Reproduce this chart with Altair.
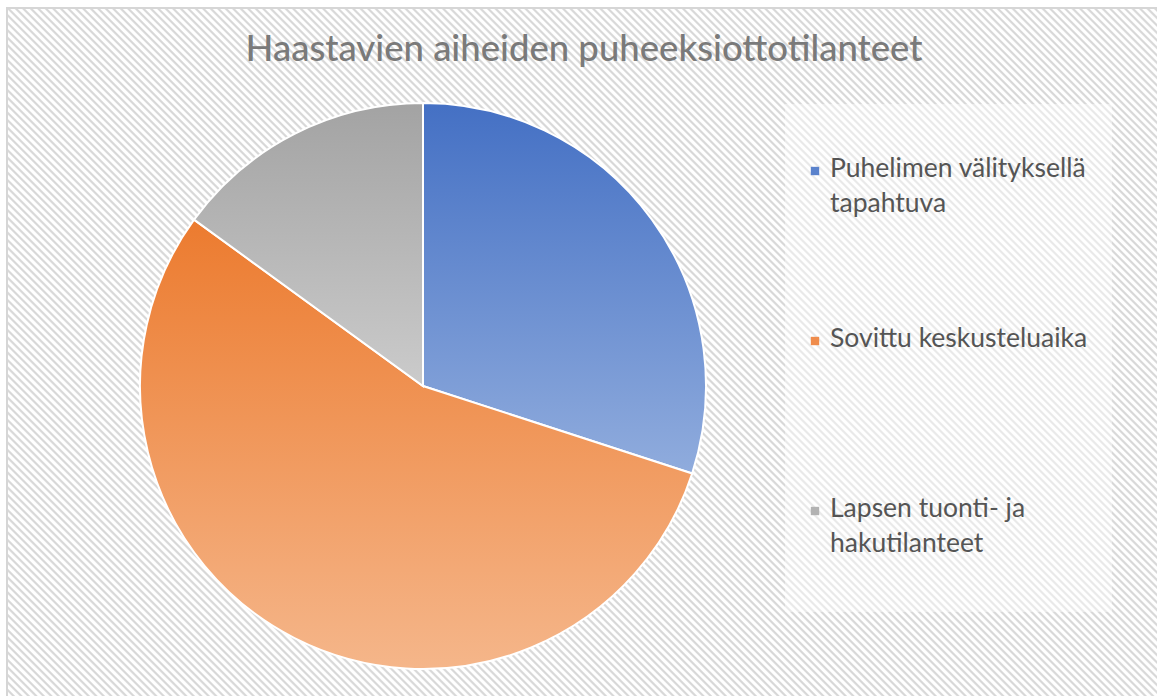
import altair as alt
import pandas as pd
import math

# ---- data ----
categories = ["Puhelimen välityksellä tapahtuva", "Sovittu keskusteluaika", "Lapsen tuonti- ja hakutilanteet"]
legend_labels = ["Puhelimen välityksellä\ntapahtuva", "Sovittu keskusteluaika", "Lapsen tuonti- ja\nhakutilanteet"]
values = [30, 55, 15]
order_idx = [0, 1, 2]
title_text = "Haastavien aiheiden puheeksiottotilanteet"

df = pd.DataFrame({"cat": categories, "label": legend_labels, "value": values, "idx": order_idx})

W, H = 1157, 696

# ---- styles ----
def vgrad(top, bottom):
    return {"gradient": "linear", "x1": 0, "y1": 0, "x2": 0, "y2": 1,
            "stops": [{"offset": 0, "color": top}, {"offset": 1, "color": bottom}]}

grad_blue = vgrad("#4470c4", "#90acdd")
grad_orange = vgrad("#ec7b2f", "#f5b68a")
grad_gray = vgrad("#a3a3a3", "#cbcbcb")
legend_colors = ["#5a82cc", "#ef8c4c", "#b2b2b2"]

# diagonal hatch background emulated with a striped linear gradient
bx0, by0, bx1, by1 = 7, 8, W + 6, H + 6
BW, BH = bx1 - bx0, by1 - by0
k = (BW + BH) * BW / (BW * BW + BH * BH)
period = 5.3
dt = period * math.sqrt(2) / (BW + BH)
stops = []
t = 0.0
light, dark = "#ffffff", "#d8d8d8"
while t < 1.0:
    stops.append({"offset": round(t, 6), "color": light})
    stops.append({"offset": round(min(t + dt * 0.38, 1.0), 6), "color": light})
    stops.append({"offset": round(min(t + dt * 0.60, 1.0), 6), "color": dark})
    stops.append({"offset": round(min(t + dt * 0.80, 1.0), 6), "color": dark})
    t += dt
hatch = {"gradient": "linear", "x1": 0, "y1": 1, "x2": round(k, 6), "y2": round(1 - k * BH / BW, 6),
         "stops": stops}

frame_df = pd.DataFrame({"a": [0]})

background = alt.Chart(frame_df).mark_rect(stroke="#d6d6d6", strokeWidth=2).encode(
    x=alt.value(bx0), x2=alt.value(bx1), y=alt.value(by0), y2=alt.value(by1),
    fill=alt.value(hatch),
)

legend_box = alt.Chart(frame_df).mark_rect(fill="white", opacity=0.45).encode(
    x=alt.value(785), x2=alt.value(1112), y=alt.value(104), y2=alt.value(612),
)

title = alt.Chart(frame_df).mark_text(
    text=title_text, font="Lato", fontSize=36.5, fontWeight=500, color="#7a7a7a",
    align="center", baseline="alphabetic"
).encode(x=alt.value(584), y=alt.value(61))

pie = alt.Chart(df).mark_arc(stroke="white", strokeWidth=2).encode(
    theta=alt.Theta("value:Q", stack=True),
    order=alt.Order("idx:Q"),
    detail="cat:N",
    x=alt.value(423), y=alt.value(386), radius=alt.value(283),
    fill={"condition": [{"test": "datum.idx == 0", "value": grad_blue},
                        {"test": "datum.idx == 1", "value": grad_orange}],
          "value": grad_gray},
)

yscale = alt.Scale(type="point", domain=categories, range=[177, 517], padding=0)

leg_sym = alt.Chart(df).mark_square(size=70, yOffset=-6, opacity=1).encode(
    x=alt.value(815),
    y=alt.Y("cat:N", scale=yscale, axis=None),
    color=alt.Color("cat:N", scale=alt.Scale(domain=categories, range=legend_colors), legend=None),
)

leg_txt = alt.Chart(df).mark_text(
    align="left", baseline="alphabetic", font="Lato", fontSize=26.5, lineHeight=35,
    lineBreak="\n", color="#555555"
).encode(
    x=alt.value(830),
    y=alt.Y("cat:N", scale=yscale, axis=None),
    text="label:N",
)

chart = alt.layer(background, legend_box, title, pie, leg_sym, leg_txt).properties(
    width=W, height=H, padding=0, autosize=alt.AutoSizeParams(type="none"),
    background="white",
).configure_view(stroke=None)

chart.save("out.html", embed_options={"renderer": "svg", "actions": False})
